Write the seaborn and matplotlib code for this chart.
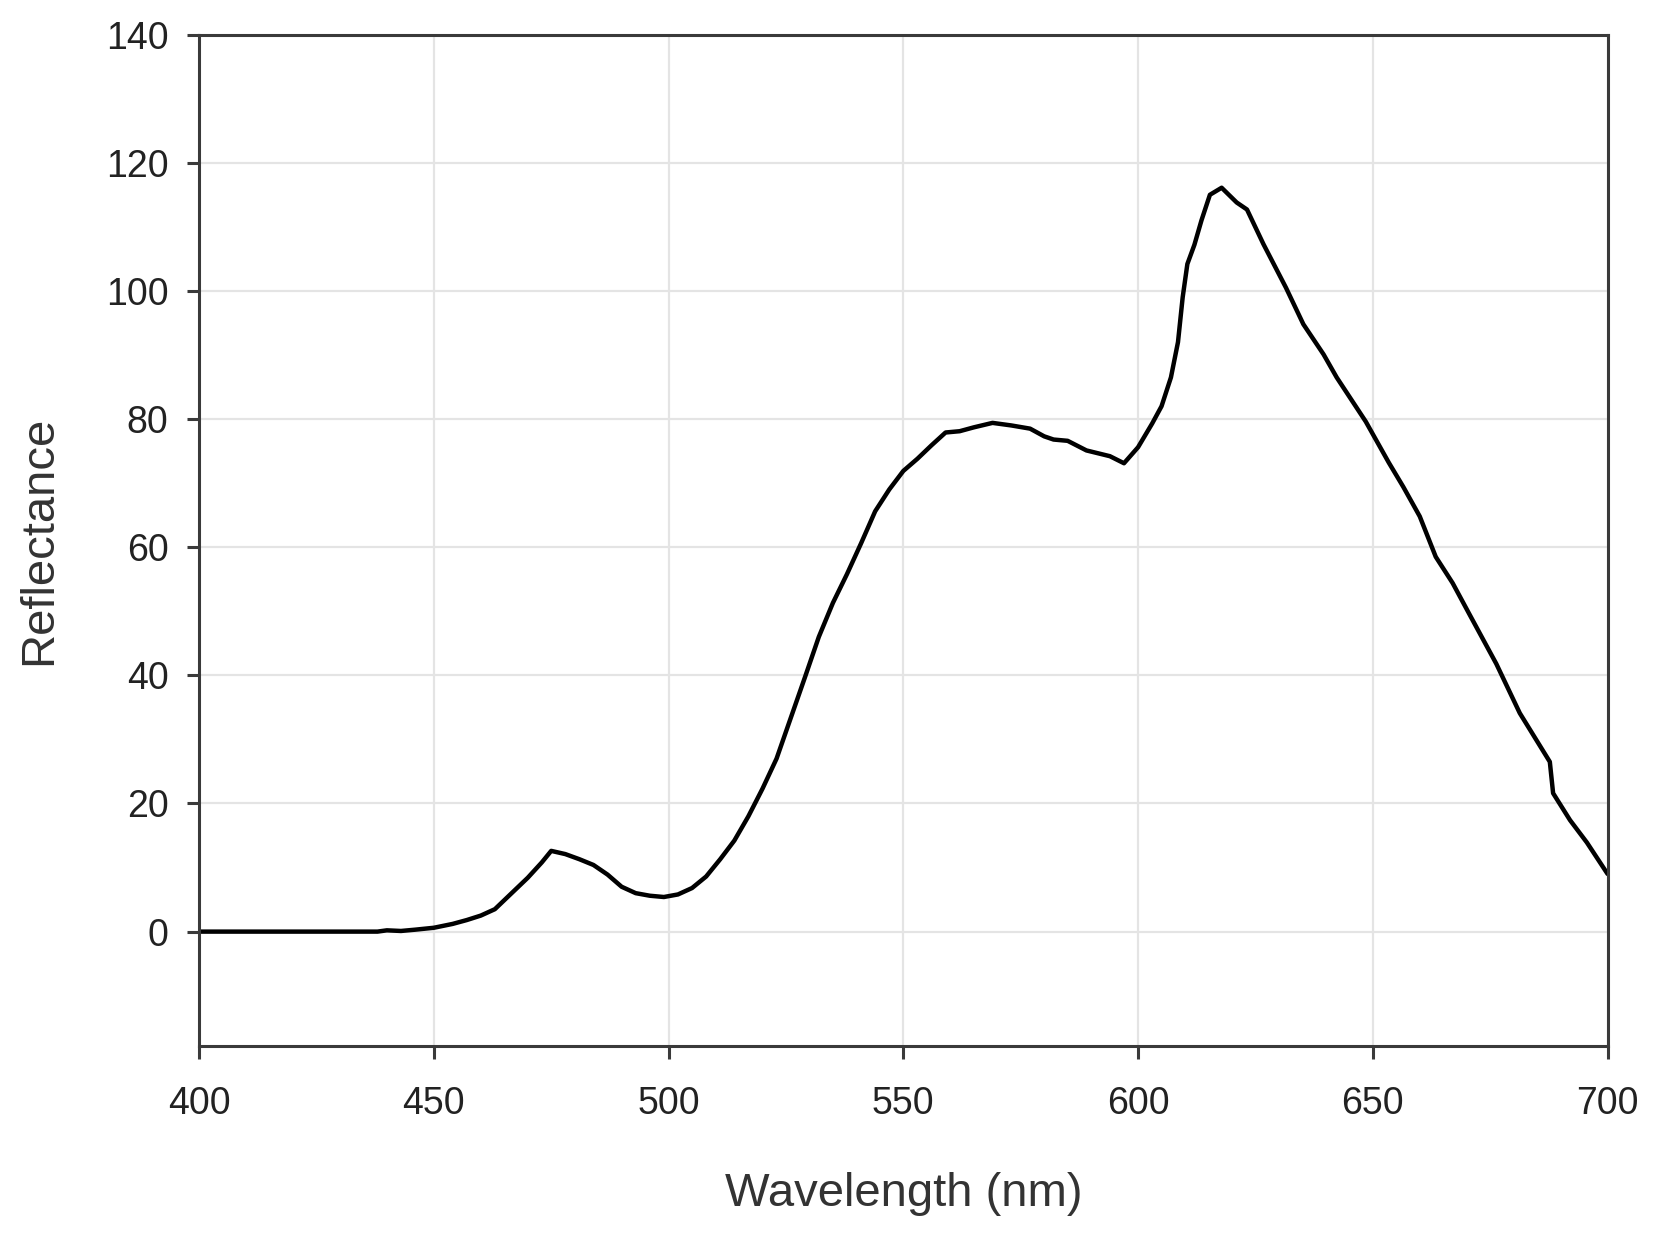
import seaborn as sns
import pandas as pd
import matplotlib.pyplot as plt

# Reflectance spectrum
wavelength = [400, 410, 420, 430, 438, 440, 443, 446, 450, 454, 457, 460, 463, 466,
              470, 473, 475, 478, 481, 484, 487, 490, 493, 496, 499, 502, 505, 508,
              511, 514, 517, 520, 523, 526, 529, 532, 535, 538, 541, 544, 547, 550,
              553, 556, 559, 562, 565, 569, 573, 577, 580, 582, 585, 589, 594, 597,
              600, 603, 605, 607, 608.5, 609.5, 610.5, 612, 613.5, 615.3, 617.8, 621,
              623.2, 626.7, 631.5, 635.2, 639.5, 642.3, 648.5, 653.4, 656.5, 660,
              663.4, 667, 670.6, 676.3, 681.3, 687.7, 688.4, 692, 695.6, 700]
reflectance = [0, 0, 0, 0, 0, 0.2, 0.1, 0.3, 0.6, 1.2, 1.8, 2.5, 3.5, 5.6,
               8.4, 10.8, 12.6, 12.1, 11.3, 10.4, 8.9, 7.0, 6.0, 5.6, 5.4, 5.8, 6.8, 8.6,
               11.3, 14.2, 18.0, 22.3, 27.0, 33.3, 39.6, 46.0, 51.3, 55.8, 60.6, 65.6, 69.0, 71.9,
               73.8, 75.9, 77.9, 78.1, 78.7, 79.4, 79.0, 78.5, 77.3, 76.8, 76.6, 75.1, 74.2, 73.1,
               75.6, 79.3, 82.0, 86.5, 92.0, 99.0, 104.2, 107.2, 111.0, 115.0, 116.1, 113.8,
               112.7, 107.3, 100.5, 94.8, 90.1, 86.5, 79.6, 73.2, 69.4, 64.8,
               58.5, 54.4, 49.5, 41.8, 34.1, 26.5, 21.6, 17.4, 13.9, 9.0]

x_ticks = [400, 450, 500, 550, 600, 650, 700]
y_ticks = [0, 20, 40, 60, 80, 100, 120, 140]

df = pd.DataFrame({'Wavelength': wavelength, 'Reflectance': reflectance})

sns.set_style('whitegrid')
plt.rcParams['font.family'] = ['Liberation Sans', 'DejaVu Sans']

fig, ax = plt.subplots(figsize=(16.59, 12.36), dpi=100)
fig.subplots_adjust(left=0.120, right=0.969, top=0.972, bottom=0.154)

sns.lineplot(data=df, x='Wavelength', y='Reflectance', color='black',
             linewidth=3.2, ax=ax, sort=False)

ax.set_xlim(400, 700)
ax.set_ylim(-17.8, 140)
ax.set_xticks(x_ticks)
ax.set_yticks(y_ticks)

ax.grid(True, color='#e4e4e4', linewidth=1.6)
for s in ax.spines.values():
    s.set_color('#3a3a3a')
    s.set_linewidth(2.2)

ax.tick_params(axis='both', which='major', direction='out', length=9, width=2.2,
               color='#3a3a3a', labelsize=27, labelcolor='#222222',
               bottom=True, left=True)
ax.tick_params(axis='x', pad=20)
ax.tick_params(axis='y', pad=13)

ax.set_xlabel('Wavelength (nm)', fontsize=34, color='#333333', labelpad=36)
ax.set_ylabel('Reflectance', fontsize=34, color='#333333', labelpad=32)

plt.savefig('out.png', dpi=100)
